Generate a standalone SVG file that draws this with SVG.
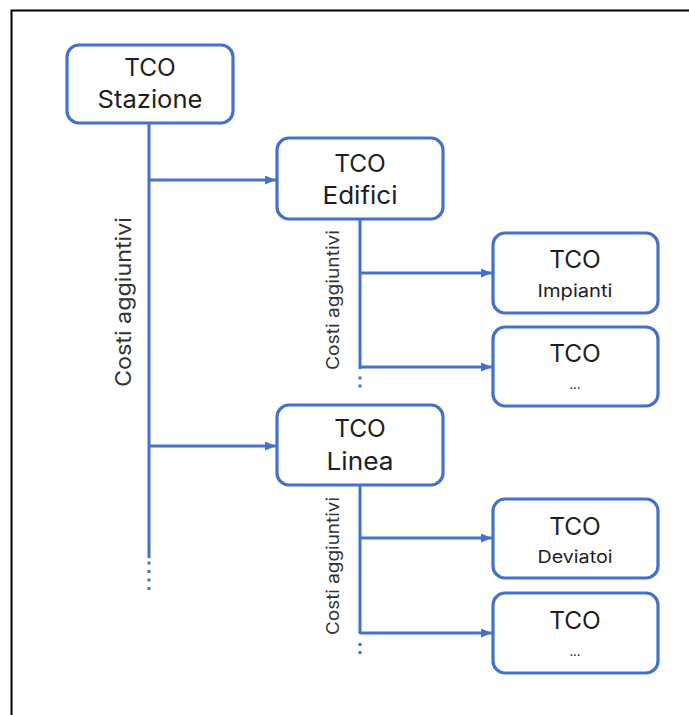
<svg xmlns="http://www.w3.org/2000/svg" width="689" height="715" viewBox="0 0 689 715">
<defs>
<style>
.box{fill:#fff;stroke:#4472C4;stroke-width:3.2}
.ln{fill:none;stroke:#4472C4;stroke-width:3}
.dot{fill:#4472C4}
.t{font-family:Inter,"Noto Sans","Liberation Sans",sans-serif;fill:#1e1e1e;text-anchor:middle;font-weight:400}
.big{font-size:24.5px}
.sm{font-size:17.5px}
.lbl{font-family:Inter,"Noto Sans","Liberation Sans",sans-serif;fill:#333;text-anchor:middle;font-weight:400}
</style>
<marker id="ah" markerWidth="11" markerHeight="9" refX="11" refY="4.5" orient="auto" markerUnits="userSpaceOnUse">
<path d="M0,0 L11,4.5 L0,9 Z" fill="#4472C4"/>
</marker>
</defs>
<rect width="689" height="715" fill="#fff"/>
<path d="M11.5,715 V10.5 H689" fill="none" stroke="#000" stroke-width="2"/>
<g id="connectors">
<path class="ln" d="M149,123 V558"/>
<path class="ln" d="M149,180 H276" marker-end="url(#ah)"/>
<path class="ln" d="M149,446 H276" marker-end="url(#ah)"/>
<path class="ln" d="M360,219 V369"/>
<path class="ln" d="M360,273 H492" marker-end="url(#ah)"/>
<path class="ln" d="M360,367 H492" marker-end="url(#ah)"/>
<path class="ln" d="M360,485 V634"/>
<path class="ln" d="M360,538 H492" marker-end="url(#ah)"/>
<path class="ln" d="M360,633 H492" marker-end="url(#ah)"/>
<g class="dot">
<rect x="147.5" y="561.5" width="3" height="3"/>
<rect x="147.5" y="570" width="3" height="3"/>
<rect x="147.5" y="578.5" width="3" height="3"/>
<rect x="147.5" y="587" width="3" height="3"/>
<rect x="358.5" y="376.5" width="3" height="3"/>
<rect x="358.5" y="384.5" width="3" height="3"/>
<rect x="358.5" y="643" width="3" height="3"/>
<rect x="358.5" y="651" width="3" height="3"/>
</g>
<text class="lbl" font-size="21" transform="translate(131,302) rotate(-90)" textLength="170" lengthAdjust="spacingAndGlyphs">Costi aggiuntivi</text>
<text class="lbl" font-size="17" transform="translate(339,300) rotate(-90)" textLength="140" lengthAdjust="spacingAndGlyphs">Costi aggiuntivi</text>
<text class="lbl" font-size="17" transform="translate(339,566) rotate(-90)" textLength="138" lengthAdjust="spacingAndGlyphs">Costi aggiuntivi</text>
</g>
<g id="stazione">
<rect class="box" x="67" y="45" width="166" height="78" rx="12"/>
<text class="t big" x="150" y="76">TCO</text>
<text class="t big" x="150" y="108" textLength="105" lengthAdjust="spacingAndGlyphs">Stazione</text>
</g>
<g id="edifici">
<rect class="box" x="277" y="138" width="166" height="81" rx="12"/>
<text class="t big" x="360" y="172">TCO</text>
<text class="t big" x="360" y="204" textLength="75" lengthAdjust="spacingAndGlyphs">Edifici</text>
</g>
<g id="impianti">
<rect class="box" x="493" y="233" width="165" height="80" rx="12"/>
<text class="t big" x="575" y="268">TCO</text>
<text class="t sm" x="575" y="297" textLength="75" lengthAdjust="spacingAndGlyphs">Impianti</text>
</g>
<g id="edifici-altro">
<rect class="box" x="493" y="327" width="165" height="79" rx="12"/>
<text class="t big" x="575" y="362">TCO</text>
<text class="t" font-size="13" x="575" y="389">...</text>
</g>
<g id="linea">
<rect class="box" x="277" y="405" width="166" height="80" rx="12"/>
<text class="t big" x="360" y="437">TCO</text>
<text class="t big" x="360" y="470" textLength="67" lengthAdjust="spacingAndGlyphs">Linea</text>
</g>
<g id="deviatoi">
<rect class="box" x="493" y="499" width="165" height="79" rx="12"/>
<text class="t big" x="575" y="535">TCO</text>
<text class="t sm" x="575" y="563" textLength="75" lengthAdjust="spacingAndGlyphs">Deviatoi</text>
</g>
<g id="linea-altro">
<rect class="box" x="493" y="593" width="165" height="80" rx="12"/>
<text class="t big" x="575" y="629">TCO</text>
<text class="t" font-size="13" x="575" y="656">...</text>
</g>
</svg>
